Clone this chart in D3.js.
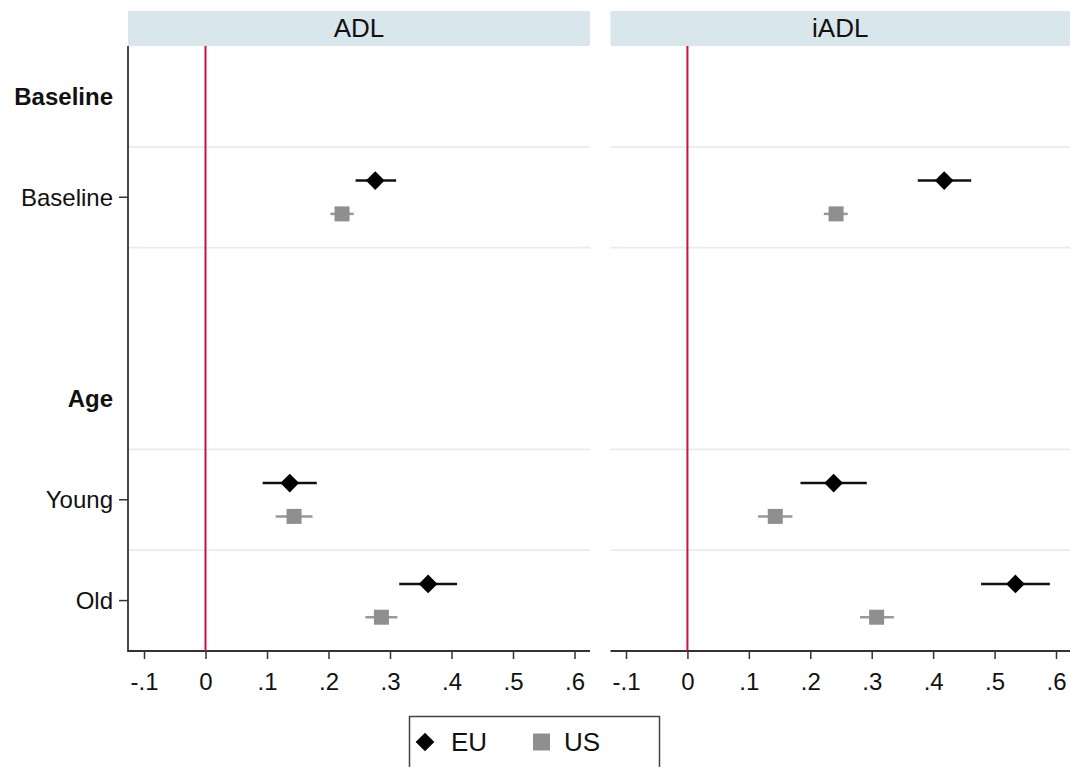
<!DOCTYPE html>
<html><head><meta charset="utf-8">
<script src="https://cdn.jsdelivr.net/npm/d3@7"></script>
<style>body{margin:0;background:#fff}svg{display:block;font-family:"Liberation Sans",Arial,sans-serif}</style>
</head><body>
<svg id="c" width="1070" height="767"></svg>
<script>
// ---- data ----
const panels = ["ADL", "iADL"];
const rowLabels = ["Baseline", "Baseline", "Age", "Young", "Old"];
const rowIsHeader = [true, false, true, false, false];
const rowIndex = [1, 3, 7, 9, 11];
const gridIndex = [2, 4, 8, 10];
const seriesNames = ["EU", "US"];
const xTicks = [-0.1, 0, 0.1, 0.2, 0.3, 0.4, 0.5, 0.6];
const xTickLabels = ["-.1", "0", ".1", ".2", ".3", ".4", ".5", ".6"];
const dataRows = ["Baseline", "Young", "Old"];
// ADL
const adlEU = [0.276, 0.137, 0.362];
const adlEULo = [0.244, 0.093, 0.315];
const adlEUHi = [0.310, 0.181, 0.409];
const adlUS = [0.222, 0.144, 0.286];
const adlUSLo = [0.203, 0.114, 0.260];
const adlUSHi = [0.241, 0.174, 0.312];
// iADL
const iadlEU = [0.418, 0.238, 0.534];
const iadlEULo = [0.375, 0.184, 0.478];
const iadlEUHi = [0.462, 0.292, 0.590];
const iadlUS = [0.242, 0.143, 0.308];
const iadlUSLo = [0.222, 0.115, 0.281];
const iadlUSHi = [0.261, 0.171, 0.336];

const panelData = [
  {EU: [adlEU, adlEULo, adlEUHi], US: [adlUS, adlUSLo, adlUSHi]},
  {EU: [iadlEU, iadlEULo, iadlEUHi], US: [iadlUS, iadlUSLo, iadlUSHi]}
];

// ---- layout ----
const svg = d3.select("#c");
const yTop = 46, yBot = 651;
const y = d3.scaleLinear().domain([0, 12]).range([yTop, yBot]);
const rowPos = {Baseline: 3, Young: 9, Old: 11};
const offset = 0.33;
const panelBox = [
  {x0: 128, x1: 590, r0: 144, r1: 574.5},
  {x0: 610.5, x1: 1070, r0: 626, r1: 1056}
];
const red = "#c8143c";
const axisCol = "#333";
const gridCol = "#e4eef1";
const stripCol = "#d9e6ec";
const usCol = "#8f8f8f";
const euCol = "#000000";
const fs = 24;
const diamond = d3.symbol(d3.symbolSquare, 175)();

panels.forEach((p, i) => {
  const b = panelBox[i];
  const x = d3.scaleLinear().domain([-0.1, 0.6]).range([b.r0, b.r1]);
  const g = svg.append("g");
  // strip
  g.append("rect").attr("x", b.x0).attr("y", 11).attr("width", b.x1 - b.x0).attr("height", yTop - 11).attr("fill", stripCol);
  g.append("text").attr("x", (b.x0 + b.x1) / 2).attr("y", 37).attr("text-anchor", "middle")
    .attr("font-size", 26).attr("fill", "#111").text(p);
  // gridlines
  g.selectAll(".grid").data(gridIndex).enter().append("line")
    .attr("x1", b.x0).attr("x2", b.x1).attr("y1", d => y(d)).attr("y2", d => y(d))
    .attr("stroke", gridCol).attr("stroke-width", 1.6);
  // x axis
  const ax = g.append("g").attr("transform", `translate(0,${yBot})`)
    .call(d3.axisBottom(x).tickValues(xTicks).tickFormat((d, k) => xTickLabels[k]).tickSize(8).tickSizeOuter(0).tickPadding(13.5));
  ax.select(".domain").remove();
  ax.append("line").attr("x1", b.x0).attr("x2", b.x1).attr("y1", 0).attr("y2", 0).attr("stroke", axisCol).attr("stroke-width", 1.8);
  ax.selectAll(".tick line").attr("stroke", axisCol).attr("stroke-width", 1.5);
  ax.selectAll(".tick text").attr("font-size", fs).attr("fill", "#111").attr("font-family", "Liberation Sans, Arial, sans-serif");
  // red reference line
  g.append("line").attr("x1", x(0)).attr("x2", x(0)).attr("y1", yTop).attr("y2", yBot)
    .attr("stroke", red).attr("stroke-width", 2);
  // y axis on left panel
  if (i === 0) {
    g.append("line").attr("x1", b.x0).attr("x2", b.x0).attr("y1", yTop).attr("y2", yBot + 0.9)
      .attr("stroke", axisCol).attr("stroke-width", 1.8);
    rowLabels.forEach((lab, k) => {
      const yy = y(rowIndex[k]);
      if (!rowIsHeader[k]) {
        g.append("line").attr("x1", b.x0 - 9).attr("x2", b.x0).attr("y1", yy).attr("y2", yy)
          .attr("stroke", axisCol).attr("stroke-width", 1.5);
      }
      g.append("text").attr("x", b.x0 - 15).attr("y", yy).attr("dy", "0.35em")
        .attr("text-anchor", "end").attr("font-size", fs).attr("font-weight", rowIsHeader[k] ? "bold" : "normal")
        .attr("fill", "#111").text(lab);
    });
  }
  // series
  const pd = panelData[i];
  seriesNames.forEach((s, si) => {
    const [est, lo, hi] = pd[s];
    const off = si === 0 ? -offset : offset;
    dataRows.forEach((r, k) => {
      const yy = y(rowPos[r] + off);
      g.append("line").attr("x1", x(lo[k])).attr("x2", x(hi[k])).attr("y1", yy).attr("y2", yy)
        .attr("stroke", si === 0 ? "#111" : "#999").attr("stroke-width", 2.5);
      if (si === 0) {
        g.append("path").attr("transform", `translate(${x(est[k])},${yy}) rotate(45)`)
          .attr("d", diamond).attr("fill", euCol);
      } else {
        g.append("rect").attr("x", x(est[k]) - 7.5).attr("y", yy - 7.5).attr("width", 15).attr("height", 15).attr("fill", usCol);
      }
    });
  });
});

// legend
const lg = svg.append("g");
lg.append("rect").attr("x", 409.5).attr("y", 716.5).attr("width", 250).attr("height", 70)
  .attr("fill", "#fff").attr("stroke", "#444").attr("stroke-width", 1.5);
lg.append("path").attr("transform", "translate(425,742) rotate(45)").attr("d", diamond).attr("fill", euCol);
lg.append("text").attr("x", 451).attr("y", 742).attr("dy", "0.35em").attr("font-size", 26).attr("fill", "#111").text(seriesNames[0]);
lg.append("rect").attr("x", 533).attr("y", 733.5).attr("width", 17).attr("height", 17).attr("fill", usCol);
lg.append("text").attr("x", 564).attr("y", 742).attr("dy", "0.35em").attr("font-size", 26).attr("fill", "#111").text(seriesNames[1]);
</script>
</body></html>
